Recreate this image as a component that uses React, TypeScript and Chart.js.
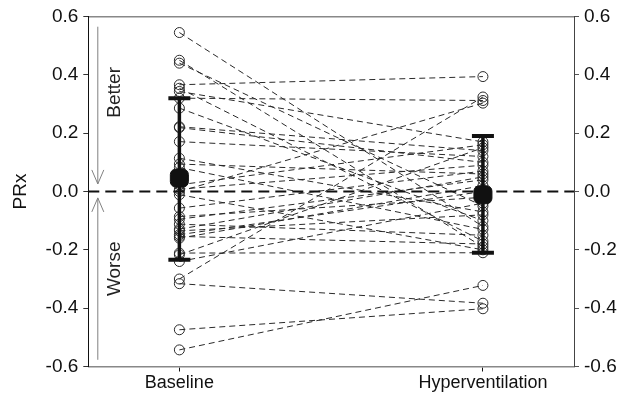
import React, { useEffect, useRef } from "react";
import { Chart, registerables } from "chart.js";

Chart.register(...registerables);

const categories = ["Baseline", "Hyperventilation"];
const categoryX = [0, 1];

// Paired PRx values per patient
const baselinePRx = [
  0.545, 0.45, 0.44, 0.366, 0.354, 0.343, 0.32, 0.286, 0.222, 0.219, 0.171, 0.114,
  0.094, 0.082, 0.023, 0.008, 0.0, -0.011, -0.057, -0.086, -0.095, -0.112, -0.129,
  -0.135, -0.148, -0.154, -0.16, -0.211, -0.217, -0.24, -0.3, -0.316, -0.474, -0.543,
];
const hyperPRx = [
  -0.12, -0.19, -0.05, 0.394, -0.17, 0.17, 0.312, -0.1, 0.14, 0.1, 0.12, -0.07,
  0.06, -0.13, 0.16, 0.09, 0.303, -0.2, 0.07, -0.02, 0.04, -0.15, 0.05, -0.08,
  0.0, -0.18, 0.02, -0.21, 0.15, -0.04, 0.324, -0.383, -0.402, -0.322,
];

// Group summary: mean and error bar ends
const groupMean = [0.046, -0.011];
const groupUpper = [0.32, 0.19];
const groupLower = [-0.234, -0.21];

const yTicks = [-0.6, -0.4, -0.2, 0.0, 0.2, 0.4, 0.6];

const FONT = "'Liberation Sans', Arial, Helvetica, sans-serif";

const annotationPlugin = {
  id: "betterWorse",
  afterDatasetsDraw(chart: any) {
    const { ctx, chartArea, scales } = chart;
    const y = scales.y;
    const x0 = chartArea.left + 9.5;
    ctx.save();
    ctx.strokeStyle = "#808080";
    ctx.lineWidth = 1;
    // Better arrow (down to 0)
    const bTop = y.getPixelForValue(0.565);
    const bTip = y.getPixelForValue(0.026);
    ctx.beginPath();
    ctx.moveTo(x0, bTop);
    ctx.lineTo(x0, bTip);
    ctx.moveTo(x0 - 6, bTip - 14);
    ctx.lineTo(x0, bTip);
    ctx.lineTo(x0 + 6, bTip - 14);
    ctx.stroke();
    // Worse arrow (up to 0)
    const wBot = y.getPixelForValue(-0.577);
    const wTip = y.getPixelForValue(-0.022);
    ctx.beginPath();
    ctx.moveTo(x0, wBot);
    ctx.lineTo(x0, wTip);
    ctx.moveTo(x0 - 6, wTip + 14);
    ctx.lineTo(x0, wTip);
    ctx.lineTo(x0 + 6, wTip + 14);
    ctx.stroke();
    // Texts
    ctx.fillStyle = "#222";
    ctx.font = `19px ${FONT}`;
    ctx.textAlign = "center";
    ctx.textBaseline = "middle";
    const tx = chartArea.left + 26;
    ctx.save();
    ctx.translate(tx, y.getPixelForValue(0.34));
    ctx.rotate(-Math.PI / 2);
    ctx.fillText("Better", 0, 0);
    ctx.restore();
    ctx.save();
    ctx.translate(tx, y.getPixelForValue(-0.265));
    ctx.rotate(-Math.PI / 2);
    ctx.fillText("Worse", 0, 0);
    ctx.restore();
    ctx.restore();
  },
};

export default function App() {
  const canvasRef = useRef<HTMLCanvasElement | null>(null);

  useEffect(() => {
    if (!canvasRef.current) return;
    const subjectSets = baselinePRx.map((b, i) => ({
      type: "scatter" as const,
      data: [
        { x: categoryX[0], y: b },
        { x: categoryX[1], y: hyperPRx[i] },
      ],
      showLine: true,
      borderColor: "#2a2a2a",
      borderWidth: 1,
      borderDash: [6, 4],
      pointRadius: 5,
      pointStyle: "circle",
      pointBorderColor: "#2a2a2a",
      pointBackgroundColor: "rgba(0,0,0,0)",
      pointBorderWidth: 1,
      order: 3,
    }));

    const zeroLine = {
      type: "scatter" as const,
      data: [
        { x: -0.3, y: 0 },
        { x: 1.3, y: 0 },
      ],
      showLine: true,
      borderColor: "#111",
      borderWidth: 2,
      borderDash: [11, 6],
      pointRadius: 0,
      order: 2,
    };

    const errorSets = categoryX.map((cx, i) => ({
      type: "scatter" as const,
      data: [
        { x: cx, y: groupUpper[i] },
        { x: cx, y: groupLower[i] },
      ],
      showLine: true,
      borderColor: "#111",
      borderWidth: 3.5,
      pointStyle: "line",
      pointRadius: 11,
      pointBorderWidth: 4,
      pointBorderColor: "#111",
      order: 1,
    }));

    const meanSet = {
      type: "scatter" as const,
      data: categoryX.map((cx, i) => ({ x: cx, y: groupMean[i] })),
      pointStyle: "rectRounded",
      pointRadius: 10.5,
      pointBackgroundColor: "#111",
      pointBorderColor: "#111",
      showLine: false,
      order: 0,
    };

    const chart = new Chart(canvasRef.current, {
      type: "scatter",
      data: { datasets: [meanSet, ...errorSets, zeroLine, ...subjectSets] as any },
      plugins: [annotationPlugin],
      options: {
        animation: false,
        responsive: false,
        maintainAspectRatio: false,
        layout: { padding: 0 },
        plugins: { legend: { display: false }, tooltip: { enabled: false } },
        scales: {
          x: {
            type: "linear",
            position: "bottom",
            min: -0.3,
            max: 1.3,
            afterBuildTicks: (s: any) => {
              s.ticks = categoryX.map((v) => ({ value: v }));
            },
            afterFit: (s: any) => {
              s.height = 30.5;
            },
            ticks: {
              callback: (v: any) => categories[categoryX.indexOf(Number(v))] ?? "",
              color: "#111",
              font: { family: FONT, size: 18 },
              padding: 1,
              maxRotation: 0,
              autoSkip: false,
            },
            grid: {
              drawOnChartArea: false,
              drawTicks: true,
              tickLength: 5,
              color: "#111",
            },
            border: { display: true, color: "#888", width: 1.5 },
          },
          xTop: {
            type: "linear",
            position: "top",
            min: -0.3,
            max: 1.3,
            afterFit: (s: any) => {
              s.height = 16.5;
            },
            ticks: { display: false },
            grid: { display: false, drawTicks: false },
            border: { display: true, color: "#888", width: 1.5 },
          },
          y: {
            type: "linear",
            position: "left",
            min: -0.6,
            max: 0.6,
            afterBuildTicks: (s: any) => {
              s.ticks = yTicks.map((v) => ({ value: v }));
            },
            afterFit: (s: any) => {
              s.width = 88.3;
            },
            ticks: {
              callback: (v: any) => Number(v).toFixed(1),
              color: "#111",
              font: { family: FONT, size: 19 },
              padding: 5,
            },
            grid: { drawOnChartArea: false, tickLength: 5, color: "#333" },
            border: { display: true, color: "#111", width: 1 },
            title: {
              display: true,
              text: "PRx",
              color: "#111",
              font: { family: FONT, size: 19 },
              padding: { top: 9, bottom: 0 },
            },
          },
          yRight: {
            type: "linear",
            position: "right",
            min: -0.6,
            max: 0.6,
            afterBuildTicks: (s: any) => {
              s.ticks = yTicks.map((v) => ({ value: v }));
            },
            afterFit: (s: any) => {
              s.width = 56;
            },
            ticks: {
              callback: (v: any) => Number(v).toFixed(1),
              color: "#111",
              font: { family: FONT, size: 19 },
              padding: 5,
            },
            grid: { drawOnChartArea: false, tickLength: 5, color: "#555" },
            border: { display: true, color: "#444", width: 1 },
          },
        },
      } as any,
    });
    return () => chart.destroy();
  }, []);

  return (
    <div style={{ position: "fixed", left: 0, top: 0, width: 630, height: 397, background: "#fff" }}>
      <canvas ref={canvasRef} width={630} height={397} style={{ width: 630, height: 397 }} />
    </div>
  );
}
